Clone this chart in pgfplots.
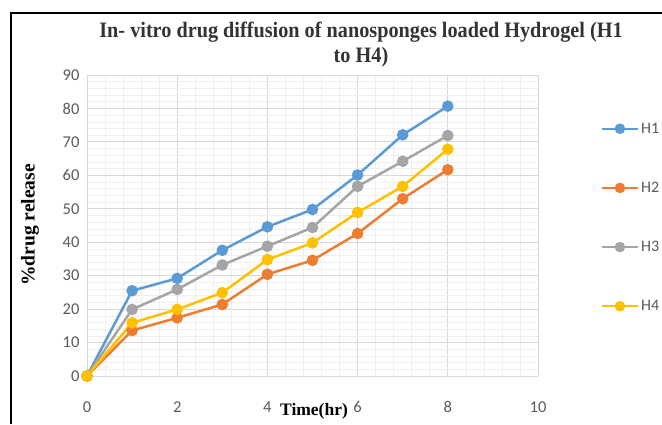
\documentclass[border=0pt]{standalone}
\usepackage{pgfplots}
\pgfplotsset{compat=1.18}
\usepackage{fontspec}
\setmainfont{Liberation Serif}
\newfontfamily\carl{Carlito}
\definecolor{cH1}{HTML}{5B9BD5}
\definecolor{cH2}{HTML}{ED7D31}
\definecolor{cH3}{HTML}{A5A5A5}
\definecolor{cH4}{HTML}{FFC000}
\definecolor{tickc}{HTML}{595959}
\definecolor{majg}{HTML}{D9D9D9}
\definecolor{ming}{HTML}{EFEFEF}
\begin{document}
\begin{tikzpicture}
\useasboundingbox (0,0) rectangle (662pt,424pt);
\draw[line width=2pt] (11pt,0) -- (11pt,411pt) -- (662pt,411pt);
\begin{axis}[
  at={(87pt,48pt)}, anchor=south west,
  scale only axis, width=451pt, height=301pt,
  xmin=0, xmax=10, ymin=0, ymax=90,
  xtick={0,2,...,10}, ytick={0,10,...,90},
  minor x tick num=4, minor y tick num=4,
  grid=both,
  major grid style={majg, line width=0.8pt},
  minor grid style={ming, line width=0.6pt},
  axis line style={majg, line width=0.8pt},
  tick style={draw=none},
  axis x line*=bottom, axis y line*=left,
  every axis plot/.append style={line width=2.5pt, mark=*, mark size=4.5pt},
  ticklabel style={font=\carl\fontsize{16.5}{16.5}\selectfont, text=tickc},
  /pgf/number format/assume math mode=true,
  xticklabel style={yshift=-22pt},
  yticklabel style={xshift=-4pt},
  legend style={at={(1.132,0.855)}, anchor=north west, draw=none, fill=none,
    font=\carl\fontsize{16}{16}\selectfont, text=tickc, row sep=43.3pt,
    /tikz/every even column/.append style={column sep=1pt}},
  legend cell align=left,
  legend image code/.code={\draw[#1, line width=2.4pt, mark size=4pt, mark repeat=2, mark phase=2] plot coordinates {(0pt,0pt)(18pt,0pt)(36pt,0pt)};},
]
\addplot[color=cH1, mark options={fill=cH1, draw=cH1}] coordinates {(0,0)(1,25.5)(2,29.2)(3,37.6)(4,44.6)(5,49.8)(6,60.1)(7,72.1)(8,80.7)};
\addlegendentry{H1}
\addplot[color=cH2, mark options={fill=cH2, draw=cH2}] coordinates {(0,0)(1,13.6)(2,17.4)(3,21.4)(4,30.4)(5,34.6)(6,42.6)(7,53.0)(8,61.7)};
\addlegendentry{H2}
\addplot[color=cH3, mark options={fill=cH3, draw=cH3}] coordinates {(0,0)(1,19.9)(2,25.9)(3,33.2)(4,38.8)(5,44.4)(6,56.7)(7,64.2)(8,71.9)};
\addlegendentry{H3}
\addplot[color=cH4, mark options={fill=cH4, draw=cH4}] coordinates {(0,0)(1,15.9)(2,19.9)(3,24.9)(4,34.8)(5,39.8)(6,48.9)(7,56.7)(8,67.8)};
\addlegendentry{H4}
\end{axis}
\node[font=\bfseries\fontsize{22}{25}\selectfont, text=black!80, align=center, xscale=0.92] at (361pt,379pt) {In- vitro drug diffusion of nanosponges loaded Hydrogel (H1\\to H4)};
\node[font=\bfseries\fontsize{19.5}{20}\selectfont, rotate=90] at (30pt,199pt) {\%drug release};
\node[font=\bfseries\fontsize{17.5}{18}\selectfont] at (314pt,13pt) {Time(hr)};
\end{tikzpicture}
\end{document}
